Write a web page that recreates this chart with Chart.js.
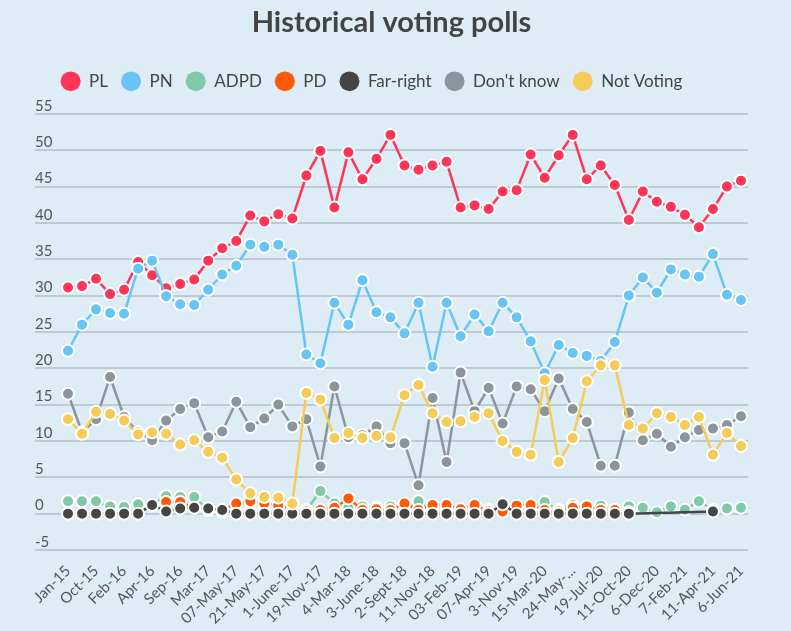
<!DOCTYPE html>
<html>
<head>
<meta charset="utf-8">
<script src="https://cdn.jsdelivr.net/npm/chart.js@4.4.1/dist/chart.umd.min.js"></script>
<style>
  html, body { margin: 0; padding: 0; background: #deecf6; }
  #wrap { width: 791px; height: 631px; }
</style>
</head>
<body>
<div id="wrap"><canvas id="pollChart" width="791" height="631"></canvas></div>
<script>
// poll dates, only every other one is labelled on the axis
const pollDates = [
  "Jan-15", "", "Oct-15", "", "Feb-16", "", "Apr-16", "", "Sep-16", "",
  "Mar-17", "", "07-May-17", "", "21-May-17", "", "1-June-17", "", "19-Nov-17", "",
  "4-Mar-18", "", "3-June-18", "", "2-Sept-18", "", "11-Nov-18", "", "03-Feb-19", "",
  "07-Apr-19", "", "3-Nov-19", "", "15-Mar-20", "", "24-May-...", "", "19-Jul-20", "",
  "11-Oct-20", "", "6-Dec-20", "", "7-Feb-21", "", "11-Apr-21", "", "6-Jun-21"
];

const plValues = [31.1, 31.3, 32.3, 30.2, 30.8, 34.6, 32.8, 31.0, 31.6, 32.2,
  34.8, 36.5, 37.5, 41.0, 40.2, 41.2, 40.6, 46.5, 49.9, 42.1,
  49.7, 46.0, 48.8, 52.1, 47.9, 47.3, 47.9, 48.4, 42.1, 42.4,
  41.9, 44.3, 44.5, 49.4, 46.2, 49.3, 52.1, 46.0, 47.9, 45.2,
  40.4, 44.3, 42.9, 42.2, 41.1, 39.4, 41.9, 45.0, 45.8];

const pnValues = [22.4, 26.0, 28.1, 27.6, 27.5, 33.7, 34.8, 29.9, 28.8, 28.7,
  30.8, 32.9, 34.1, 37.0, 36.7, 37.0, 35.6, 21.9, 20.7, 29.0,
  26.0, 32.1, 27.7, 27.0, 24.8, 29.0, 20.2, 29.0, 24.4, 27.4,
  25.1, 29.0, 27.0, 23.7, 19.3, 23.2, 22.1, 21.7, 21.0, 23.6,
  30.0, 32.5, 30.4, 33.6, 32.9, 32.6, 35.7, 30.1, 29.4];

const adpdValues = [1.7, 1.7, 1.7, 1.0, 0.9, 1.3, 1.2, 2.4, 2.3, 2.3,
  0.5, 0.3, 0.3, 0.3, 0.3, 0.3, 0.3, 0.5, 3.1, 1.4,
  0.8, 1.0, 0.8, 1.0, 0.5, 1.7, 0.5, 0.5, 0.5, 0.5,
  0.5, 0.5, 0.5, 0.8, 1.6, 0.5, 1.2, 0.8, 1.1, 0.5,
  1.0, 0.8, 0.2, 1.0, 0.55, 1.7, 0.5, 0.7, 0.8];

const pdValues = [null, null, null, null, null, null, null, 1.6, 1.6, 0.8,
  0.7, 0.5, 1.4, 1.7, 1.4, 1.1, 0.5, 0.3, 0.5, 0.8,
  2.1, 0.5, 0.6, 0.5, 1.4, 0.5, 1.2, 1.2, 0.6, 1.2,
  0.3, 0.3, 1.1, 1.2, 0.5, 0.3, 0.8, 1.0, 0.5, 0.5,
  0.2, null, null, null, null, null, null, null, null];

const farRightValues = [0, 0, 0, 0, 0, 0, 1.2, 0.3, 0.7, 0.8,
  0.7, 0.5, 0, 0, 0, 0, 0, 0, 0, 0,
  0, 0, 0, 0, 0, 0, 0, 0, 0, 0,
  0, 1.3, 0, 0, 0, 0, 0, 0, 0, 0,
  0, null, null, null, null, null, 0.3, null, null];

const dontKnowValues = [16.5, 11.2, 13.0, 18.8, 13.3, 11.2, 10.1, 12.8, 14.4, 15.2,
  10.5, 11.3, 15.4, 11.9, 13.1, 15.0, 12.0, 13.0, 6.5, 17.5,
  10.5, 10.8, 12.0, 9.7, 9.7, 3.9, 15.9, 7.1, 19.4, 14.1,
  17.3, 12.4, 17.5, 17.1, 14.1, 18.6, 14.4, 12.6, 6.6, 6.6,
  13.9, 10.1, 11.0, 9.2, 10.5, 11.5, 11.7, 12.2, 13.4];

const notVotingValues = [13.0, 11.0, 14.0, 13.7, 12.8, 10.9, 11.2, 11.0, 9.5, 10.1,
  8.5, 7.7, 4.7, 2.8, 2.3, 2.2, 1.4, 16.6, 15.7, 10.4,
  11.1, 10.4, 10.7, 10.5, 16.3, 17.7, 13.8, 12.6, 12.7, 13.3,
  13.8, 10.0, 8.5, 8.1, 18.4, 7.1, 10.4, 18.2, 20.4, 20.4,
  12.2, 11.7, 13.8, 13.3, 12.2, 13.3, 8.1, 11.1, 9.3];

const seriesNames = ["PL", "PN", "ADPD", "PD", "Far-right", "Don't know", "Not Voting"];
const seriesColors = ["#ff3557", "#66c5f4", "#80c9a8", "#ff5a08", "#454545", "#8b959e", "#f5cc57"];
const seriesValues = [plValues, pnValues, adpdValues, pdValues, farRightValues, dontKnowValues, notVotingValues];

const yMin = -5;
const yMax = 55;
const yStep = 5;

Chart.defaults.font.family = "Lato, 'Open Sans', sans-serif";
Chart.defaults.color = "#555";

const datasets = seriesNames.map((name, i) => ({
  label: name,
  data: seriesValues[i],
  borderColor: seriesColors[i],
  backgroundColor: seriesColors[i],
  pointBackgroundColor: seriesColors[i],
  pointBorderColor: "#ffffff",
  pointBorderWidth: 2,
  pointRadius: 6,
  borderWidth: 2.5,
  tension: 0,
  spanGaps: true,
  // later series sit on top
  order: seriesNames.length - i
}));

// more room under the legend, and nudge it a little left like the original
const legendSpacing = {
  id: "legendSpacing",
  beforeInit(chart) {
    const origFit = chart.legend.fit;
    chart.legend.fit = function fit() {
      origFit.call(this);
      this.height += 14;
    };
  },
  afterLayout(chart) {
    chart.legend.left -= 20;
    chart.legend.right -= 20;
  }
};

const ctx = document.getElementById("pollChart").getContext("2d");

new Chart(ctx, {
  type: "line",
  data: {
    labels: pollDates,
    datasets: datasets
  },
  plugins: [legendSpacing],
  options: {
    responsive: false,
    animation: false,
    layout: {
      padding: { left: 35, right: 43, top: 0, bottom: 0 }
    },
    plugins: {
      title: {
        display: true,
        text: "Historical voting polls",
        color: "#444",
        font: { size: 29, weight: "bold" },
        padding: { top: 5, bottom: 20 }
      },
      legend: {
        position: "top",
        labels: {
          usePointStyle: true,
          pointStyle: "circle",
          pointStyleWidth: 20,
          boxHeight: 14,
          padding: 13,
          color: "#444",
          font: { size: 17 },
          generateLabels: function(chart) {
            return Chart.defaults.plugins.legend.labels.generateLabels(chart)
              .map(item => Object.assign(item, { lineWidth: 0 }))
              .sort((a, b) => a.datasetIndex - b.datasetIndex);
          }
        }
      },
      tooltip: { enabled: false }
    },
    scales: {
      x: {
        offset: true,
        grid: { display: false, drawTicks: false },
        border: { display: false },
        ticks: {
          autoSkip: false,
          minRotation: 45,
          maxRotation: 45,
          padding: 12,
          color: "#555",
          font: { size: 15 }
        },
        afterFit: function(scale) {
          scale.paddingLeft = 0;
          scale.paddingRight = 0;
          scale.height = 81;
        }
      },
      y: {
        min: yMin,
        max: yMax,
        border: { display: false },
        grid: { color: "#bdcad3", lineWidth: 2, tickLength: 26 },
        ticks: {
          stepSize: yStep,
          crossAlign: "far",
          labelOffset: -8,
          color: "#555",
          font: { size: 15 }
        },
        afterFit: function(scale) {
          scale.width = 26;
        }
      }
    }
  }
});
</script>
</body>
</html>
